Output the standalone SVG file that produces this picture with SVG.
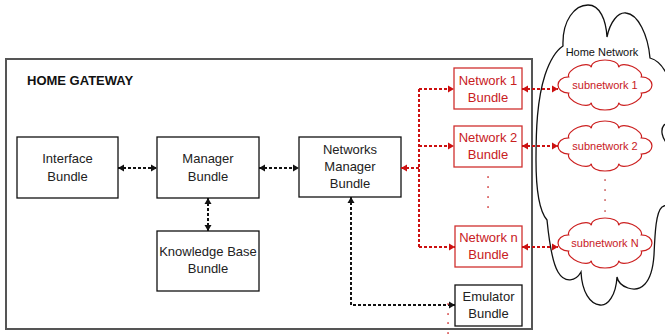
<svg xmlns="http://www.w3.org/2000/svg" xmlns:xlink="http://www.w3.org/1999/xlink" width="665" height="335" viewBox="0 0 665 335">
<style>
  .box { fill: #fff; stroke: #111; stroke-width: 1.3; }
  .rbox { fill: #fff; stroke: #d0302f; stroke-width: 1.3; }
  .t { font-family: "Liberation Sans", Arial, sans-serif; font-size: 13px; fill: #222; text-anchor: middle; }
  .rt { font-family: "Liberation Sans", Arial, sans-serif; font-size: 13px; fill: #c8201e; text-anchor: middle; }
  .ct { font-family: "Liberation Sans", Arial, sans-serif; font-size: 11px; fill: #c8201e; text-anchor: middle; }
  .bl { fill: none; stroke: #111; stroke-width: 2; stroke-dasharray: 3 2; }
  .rl { fill: none; stroke: #cc1010; stroke-width: 2; stroke-dasharray: 3 2; }
  .rcloud { fill: #fff; stroke: #cc2020; stroke-width: 1.2; }
</style>
<defs>
  <marker id="ab" markerUnits="userSpaceOnUse" markerWidth="7" markerHeight="8" refX="6" refY="4" orient="auto-start-reverse">
    <path d="M0,0.5 L6,4 L0,7.5 z" fill="#111"/>
  </marker>
  <marker id="ar" markerUnits="userSpaceOnUse" markerWidth="7" markerHeight="8" refX="6" refY="4" orient="auto-start-reverse">
    <path d="M0,0.5 L6,4 L0,7.5 z" fill="#cc1010"/>
  </marker>
  <path id="cloud" d="M83.25,16.97 C86.45,9.63 63.88,-0.2 60.68,7.14 C60.68,-2.36 33.32,-2.36 33.32,7.14 C30.12,-0.2 7.55,9.63 10.75,16.97 C-3.55,16.97 -3.55,33.03 10.75,33.03 C7.55,40.37 30.12,50.2 33.32,42.86 C33.32,52.36 60.68,52.36 60.68,42.86 C63.88,50.2 86.45,40.37 83.25,33.03 C97.55,33.03 97.55,16.97 83.25,16.97 Z"/>
</defs>
<rect width="665" height="335" fill="#fff"/>

<g id="home-gateway">
  <rect x="6" y="59" width="526" height="270" fill="none" stroke="#555" stroke-width="2"/>
  <text x="27" y="85" font-family="'Liberation Sans', Arial, sans-serif" font-size="13" font-weight="bold" fill="#111">HOME GATEWAY</text>
</g>

<g id="home-network">
  <path d="M563,46 C562,20 575,5 588,5 C600,5 606,20 607,37 C610,22 618,12 626,13 C638,14 648,35 650,58 C657,60 663,66 667,75 C680,90 680,115 664,125 C660,130 662,138 668,145 C685,170 680,200 662,207 C656,212 655,232 654,255 C652,285 640,292 628,288 C622,286 618,282 617,277 C616,295 608,306 600,305 C590,304 582,292 581,272 C576,281 565,284 558,272 C552,262 549,240 547,220 C540,212 536,190 536,160 C536,130 537,100 545,75 C550,60 557,50 563,46 Z" fill="#fff" stroke="#111" stroke-width="1.3"/>
  <text x="602" y="56" font-family="'Liberation Sans', Arial, sans-serif" font-size="11" fill="#111" text-anchor="middle">Home Network</text>
</g>

<g id="subnetwork-1">
  <use xlink:href="#cloud" href="#cloud" x="558" y="60" class="rcloud"/>
  <text class="ct" x="605" y="89">subnetwork 1</text>
</g>
<g id="subnetwork-2">
  <use xlink:href="#cloud" href="#cloud" x="558" y="121" class="rcloud"/>
  <text class="ct" x="605" y="150">subnetwork 2</text>
</g>
<g id="subnetwork-n">
  <use xlink:href="#cloud" href="#cloud" x="558" y="218" class="rcloud"/>
  <text class="ct" x="605" y="247">subnetwork N</text>
</g>

<g id="interface-bundle">
  <rect class="box" x="17" y="137" width="101" height="61"/>
  <text class="t" x="67.5" y="163">Interface</text>
  <text class="t" x="67.5" y="181">Bundle</text>
</g>
<g id="manager-bundle">
  <rect class="box" x="157" y="137" width="102" height="61"/>
  <text class="t" x="208" y="163">Manager</text>
  <text class="t" x="208" y="181">Bundle</text>
</g>
<g id="networks-manager-bundle">
  <rect class="box" x="299" y="137" width="102" height="60"/>
  <text class="t" x="350" y="154">Networks</text>
  <text class="t" x="350" y="171">Manager</text>
  <text class="t" x="350" y="188">Bundle</text>
</g>
<g id="knowledge-base-bundle">
  <rect class="box" x="157" y="231" width="102" height="60"/>
  <text class="t" x="208" y="256">Knowledge Base</text>
  <text class="t" x="208" y="273">Bundle</text>
</g>
<g id="network-1-bundle">
  <rect class="rbox" x="454" y="68" width="68" height="41"/>
  <text class="rt" x="488" y="85">Network 1</text>
  <text class="rt" x="488" y="102">Bundle</text>
</g>
<g id="network-2-bundle">
  <rect class="rbox" x="454" y="126" width="68" height="41"/>
  <text class="rt" x="488" y="142">Network 2</text>
  <text class="rt" x="488" y="159">Bundle</text>
</g>
<g id="network-n-bundle">
  <rect class="rbox" x="455" y="226" width="67" height="41"/>
  <text class="rt" x="488.5" y="242">Network n</text>
  <text class="rt" x="488.5" y="259">Bundle</text>
</g>
<g id="emulator-bundle">
  <rect class="box" x="455" y="285" width="67" height="41"/>
  <text class="t" x="488.5" y="301">Emulator</text>
  <text class="t" x="488.5" y="318">Bundle</text>
</g>

<g id="connectors">
  <line class="bl" x1="118" y1="168" x2="157" y2="168" marker-start="url(#ab)" marker-end="url(#ab)"/>
  <line class="bl" x1="259" y1="168" x2="299" y2="168" marker-start="url(#ab)" marker-end="url(#ab)"/>
  <line class="bl" x1="208" y1="198" x2="208" y2="231" marker-start="url(#ab)" marker-end="url(#ab)"/>
  <path class="bl" d="M351,197 V305 H455" marker-start="url(#ab)" marker-end="url(#ab)"/>
  <line class="rl" x1="419" y1="168" x2="401" y2="168" marker-end="url(#ar)"/>
  <line class="rl" x1="419" y1="89" x2="419" y2="247"/>
  <line class="rl" x1="419" y1="89" x2="454" y2="89" marker-end="url(#ar)"/>
  <line class="rl" x1="419" y1="146" x2="454" y2="146" marker-end="url(#ar)"/>
  <line class="rl" x1="419" y1="247" x2="455" y2="247" marker-end="url(#ar)"/>
  <line class="rl" x1="522" y1="89" x2="558" y2="89" marker-start="url(#ar)" marker-end="url(#ar)"/>
  <line class="rl" x1="522" y1="146" x2="558" y2="146" marker-start="url(#ar)" marker-end="url(#ar)"/>
  <line class="rl" x1="522" y1="247" x2="558" y2="247" marker-start="url(#ar)" marker-end="url(#ar)"/>
</g>

<g id="ellipses">
  <g fill="#cc2020">
    <rect x="487.3" y="176.3" width="1.5" height="1.5"/>
    <rect x="487.3" y="186.3" width="1.5" height="1.5"/>
    <rect x="487.3" y="196.3" width="1.5" height="1.5"/>
    <rect x="487.3" y="206.3" width="1.5" height="1.5"/>
    <rect x="447.3" y="303.3" width="1.5" height="1.5"/>
    <rect x="447.3" y="313.3" width="1.5" height="1.5"/>
    <rect x="447.3" y="322.3" width="1.5" height="1.5"/>
    <rect x="447.3" y="332.3" width="1.5" height="1.5"/>
  </g>
  <g fill="#c04040">
    <rect x="604.3" y="179.3" width="1.5" height="1.5"/>
    <rect x="604.3" y="189.3" width="1.5" height="1.5"/>
    <rect x="604.3" y="199.3" width="1.5" height="1.5"/>
    <rect x="604.3" y="210.3" width="1.5" height="1.5"/>
  </g>
</g>
</svg>
